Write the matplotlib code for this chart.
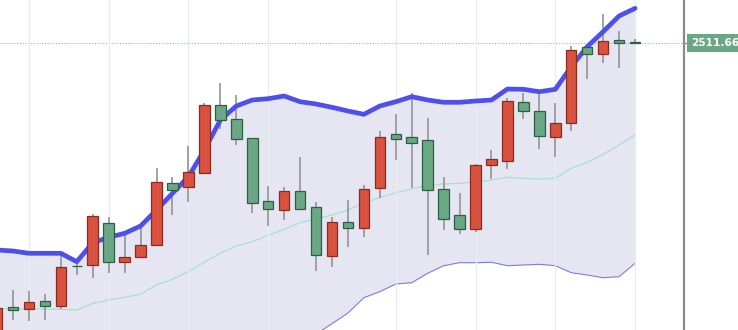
import matplotlib.pyplot as plt
import numpy as np

# daily candles, index -1 is the one cut at the left edge
idx = np.arange(-1, 40)
opens = [2216.7, 2247.4, 2246.0, 2253.7, 2248.7, 2288.9, 2289.7, 2331.4, 2292.4, 2298.0,
         2309.4, 2371.7, 2368.0, 2382.0, 2449.7, 2435.7, 2416.4, 2353.4, 2344.7, 2363.7,
         2348.0, 2299.0, 2333.0, 2326.7, 2366.4, 2420.4, 2417.4, 2414.7, 2365.7, 2339.7,
         2325.7, 2389.4, 2393.4, 2452.4, 2444.0, 2418.0, 2432.0, 2508.0, 2500.7, 2514.4,
         2512.0]
highs = [2247.5, 2264.7, 2263.7, 2260.4, 2299.7, 2294.7, 2340.7, 2338.0, 2322.4, 2326.4,
         2386.4, 2378.0, 2408.7, 2451.4, 2471.4, 2459.7, 2416.9, 2368.7, 2368.0, 2397.4,
         2353.0, 2338.0, 2354.7, 2369.7, 2424.0, 2440.7, 2462.0, 2436.4, 2378.0, 2361.4,
         2390.7, 2404.7, 2456.4, 2461.7, 2464.0, 2451.4, 2508.7, 2508.7, 2540.7, 2523.7,
         2515.4]
lows = [2212.0, 2234.7, 2234.0, 2234.7, 2245.7, 2279.7, 2276.7, 2281.4, 2281.4, 2297.5,
        2308.9, 2339.4, 2353.0, 2380.4, 2425.4, 2409.7, 2342.0, 2328.7, 2334.7, 2345.5,
        2284.0, 2287.4, 2308.0, 2317.4, 2356.4, 2394.7, 2367.0, 2299.7, 2324.7, 2320.7,
        2323.0, 2375.4, 2385.4, 2435.4, 2406.0, 2398.0, 2424.0, 2475.4, 2492.0, 2486.4,
        2511.0]
closes = [2246.7, 2244.4, 2253.0, 2249.0, 2288.0, 2288.4, 2339.0, 2292.7, 2298.0, 2309.4,
          2372.7, 2364.7, 2383.0, 2449.7, 2434.7, 2415.4, 2351.4, 2345.4, 2363.7, 2346.0,
          2300.2, 2332.4, 2327.0, 2365.7, 2418.0, 2416.0, 2411.7, 2364.7, 2336.0, 2325.7,
          2389.7, 2395.4, 2453.4, 2444.2, 2419.0, 2432.0, 2504.7, 2500.4, 2514.0, 2512.0,
          2511.66]

# bollinger bands
upper = [2304.7, 2303.7, 2301.4, 2301.4, 2301.4, 2293.0, 2312.0, 2317.4, 2321.4, 2328.7,
         2344.7, 2361.4, 2378.0, 2404.7, 2434.7, 2448.7, 2454.7, 2456.0, 2458.7, 2453.0,
         2450.7, 2447.4, 2443.7, 2440.4, 2448.7, 2453.0, 2458.0, 2454.7, 2452.4, 2452.4,
         2453.7, 2454.7, 2465.7, 2465.4, 2463.0, 2465.4, 2488.0, 2508.0, 2523.0, 2538.7,
         2546.4]
middle = [2246.2, 2245.7, 2245.7, 2245.7, 2245.4, 2244.7, 2251.4, 2254.7, 2257.4, 2260.7,
          2269.7, 2275.4, 2283.0, 2292.7, 2301.4, 2308.7, 2313.0, 2319.4, 2325.4, 2332.0,
          2335.7, 2339.7, 2344.7, 2352.0, 2357.0, 2362.0, 2365.7, 2369.7, 2370.7, 2371.4,
          2372.7, 2374.7, 2377.4, 2376.4, 2375.7, 2376.4, 2386.4, 2392.4, 2400.4, 2409.7,
          2419.7]
lower = [2188.7, 2187.7, 2190.0, 2190.0, 2189.4, 2196.4, 2190.7, 2192.0, 2193.4, 2192.7,
         2194.7, 2189.4, 2188.0, 2180.7, 2168.1, 2168.7, 2171.3, 2182.7, 2192.1, 2211.0,
         2220.7, 2231.0, 2241.7, 2257.0, 2263.0, 2270.7, 2272.0, 2281.4, 2289.0, 2292.0,
         2292.0, 2292.4, 2289.0, 2289.7, 2290.4, 2289.0, 2282.0, 2279.7, 2277.0, 2278.0,
         2291.4]

last_price = 2511.66
week_starts = [1, 6, 11, 16, 24, 29, 34, 39]

red_fill, red_edge = '#d9513f', '#8a2c20'
green_fill, green_edge = '#6aa784', '#2e5e43'

fig = plt.figure(figsize=(7.38, 3.30), dpi=100)
ax = fig.add_axes([0, 0, 684 / 738, 1])

ax.fill_between(idx, lower, upper, color='#e6e6f2', zorder=0, lw=0)
ax.plot(idx, middle, color='#a3e2cb', lw=0.9, zorder=1)
ax.plot(idx, lower, color='#7b7bee', lw=0.8, zorder=1)

o = np.array(opens)
c = np.array(closes)
up = c >= o
ax.vlines(idx, lows, highs, color='#8c8c8c', lw=1.1, zorder=2)
bottoms = np.minimum(o, c)
heights = np.maximum(np.abs(c - o), 0.6)
ax.bar(idx[up], heights[up], bottom=bottoms[up], width=0.66,
       color=red_fill, edgecolor=red_edge, lw=0.9, zorder=3)
ax.bar(idx[~up], heights[~up], bottom=bottoms[~up], width=0.66,
       color=green_fill, edgecolor=green_edge, lw=0.9, zorder=3)

ax.plot(idx, upper, color='#4f4fec', lw=3.4, zorder=2.5, solid_capstyle='round')

ax.axhline(last_price, color='#8fbcaa', lw=0.8, ls=(0, (1, 1.5)), zorder=1)

ax.set_xlim(-0.815, 42.07)
ax.set_ylim(2224.7, 2554.7)
ax.set_xticks(week_starts)
ax.grid(axis='x', color='#e8edf1', lw=1)
ax.tick_params(left=False, bottom=False, labelleft=False, labelbottom=False, right=False)
for s in ['top', 'left', 'bottom']:
    ax.spines[s].set_visible(False)
ax.spines['right'].set_color('#8a8a8a')
ax.spines['right'].set_linewidth(1.6)

# price tag on the right axis
ax.plot([42.07, 42.35], [last_price, last_price], color='#8a8a8a', lw=1, clip_on=False)
ax.text(42.5, last_price, f'{last_price:.2f}', color='white', fontsize=7.6,
        fontweight='bold', va='center', ha='left', clip_on=False,
        bbox=dict(boxstyle='square,pad=0.35', fc='#6aa784', ec='none'))

fig.savefig('out.png', dpi=100)
